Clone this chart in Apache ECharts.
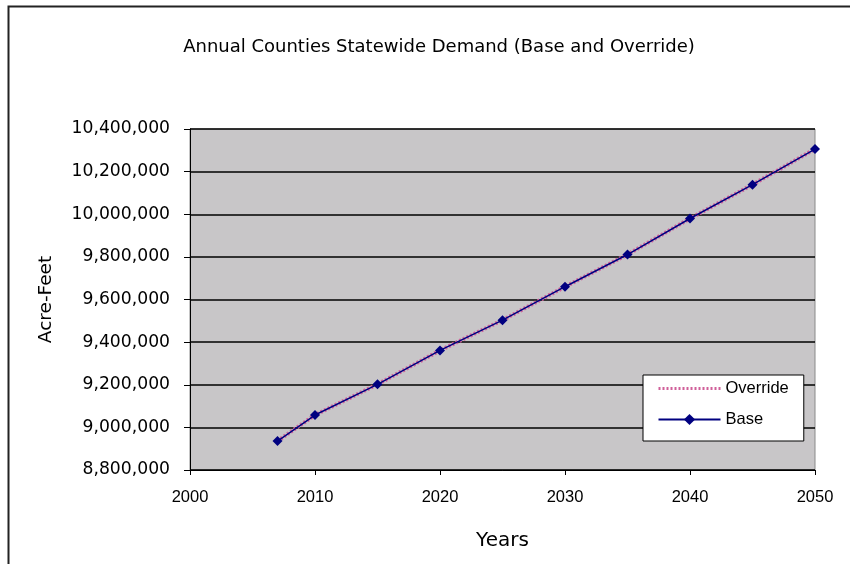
<!DOCTYPE html>
<html>
<head>
<meta charset="utf-8">
<script src="https://cdn.jsdelivr.net/npm/echarts@6/dist/echarts.min.js"></script>
<style>html,body{margin:0;padding:0;background:#fff;}#c{width:850px;height:564px;}</style>
</head>
<body>
<div id="c"></div>
<script>
var years = [2007, 2010, 2015, 2020, 2025, 2030, 2035, 2040, 2045, 2050];
var baseValues = [8936000, 9058000, 9202000, 9361000, 9503000, 9660000, 9811000, 9980000, 10139000, 10306000];
var overrideValues = [8936000, 9058000, 9202000, 9361000, 9503000, 9660000, 9811000, 9980000, 10139000, 10306000];
var titleText = 'Annual Counties Statewide Demand (Base and Override)';
var xName = 'Years';
var yName = 'Acre-Feet';

function pairs(xs, ys) { return xs.map(function (x, i) { return [x, ys[i]]; }); }

var font = 'Liberation Sans, Arial, sans-serif';
var wide = 'DejaVu Sans, sans-serif';
var chart = echarts.init(document.getElementById('c'), null, { renderer: 'canvas' });
chart.setOption({
  animation: false,
  backgroundColor: '#fff',
  graphic: [{
    type: 'rect', silent: true, z: -10,
    shape: { x: 8.5, y: 6.5, width: 900, height: 600 },
    style: { fill: 'none', stroke: '#222', lineWidth: 2 }
  }],
  title: {
    text: titleText, left: 434, top: 33, textAlign: 'center',
    textStyle: { fontFamily: wide, fontSize: 18, fontWeight: 'normal', color: '#000' }
  },
  grid: {
    left: 190, right: 35, top: 129, bottom: 94,
    show: true, backgroundColor: '#c8c6c8', borderColor: '#8a8a8a', borderWidth: 1
  },
  legend: {
    orient: 'vertical', left: 643, top: 375,
    padding: [5, 15, 13, 14],
    backgroundColor: '#fff', borderColor: '#000', borderWidth: 1,
    itemWidth: 62, itemHeight: 14, itemGap: 14,
    textStyle: { fontFamily: font, fontSize: 16.5, color: '#000' },
    data: [
      { name: 'Override', itemStyle: { opacity: 0 }, lineStyle: { width: 3 } },
      { name: 'Base' }
    ]
  },
  xAxis: {
    type: 'value', min: 2000, max: 2050, interval: 10,
    name: xName, nameLocation: 'middle', nameGap: 61,
    nameTextStyle: { fontFamily: wide, fontSize: 20, color: '#000' },
    axisLine: { lineStyle: { color: '#000', width: 1 } },
    axisTick: { show: true, length: 5, lineStyle: { color: '#000' } },
    axisLabel: {
      fontFamily: font, fontSize: 16.5, color: '#000', margin: 19,
      formatter: function (v) { return String(v); }
    },
    splitLine: { show: false }
  },
  yAxis: {
    type: 'value', min: 8800000, max: 10400000, interval: 200000,
    name: yName, nameLocation: 'middle', nameGap: 134, nameRotate: 90,
    nameTextStyle: { fontFamily: wide, fontSize: 18.5, color: '#000' },
    axisLine: { show: true, lineStyle: { color: '#000', width: 1 } },
    axisTick: { show: true, length: 6, lineStyle: { color: '#000' } },
    axisLabel: {
      fontFamily: wide, fontSize: 17.2, color: '#000', margin: 20,
      formatter: function (v) { return v.toLocaleString('en-US'); }
    },
    splitLine: { show: true, lineStyle: { color: '#000', width: 1.5 } }
  },
  series: [
    {
      name: 'Override', type: 'line', data: pairs(years, overrideValues),
      symbol: 'none', z: 2,
      color: '#d0609a',
      lineStyle: { color: '#d0609a', width: 4, type: [2, 2] }
    },
    {
      name: 'Base', type: 'line', data: pairs(years, baseValues),
      symbol: 'diamond', symbolSize: 10, z: 3,
      color: '#000080',
      itemStyle: { color: '#000080' },
      lineStyle: { color: '#000080', width: 1.5 }
    }
  ]
});
</script>
</body>
</html>
